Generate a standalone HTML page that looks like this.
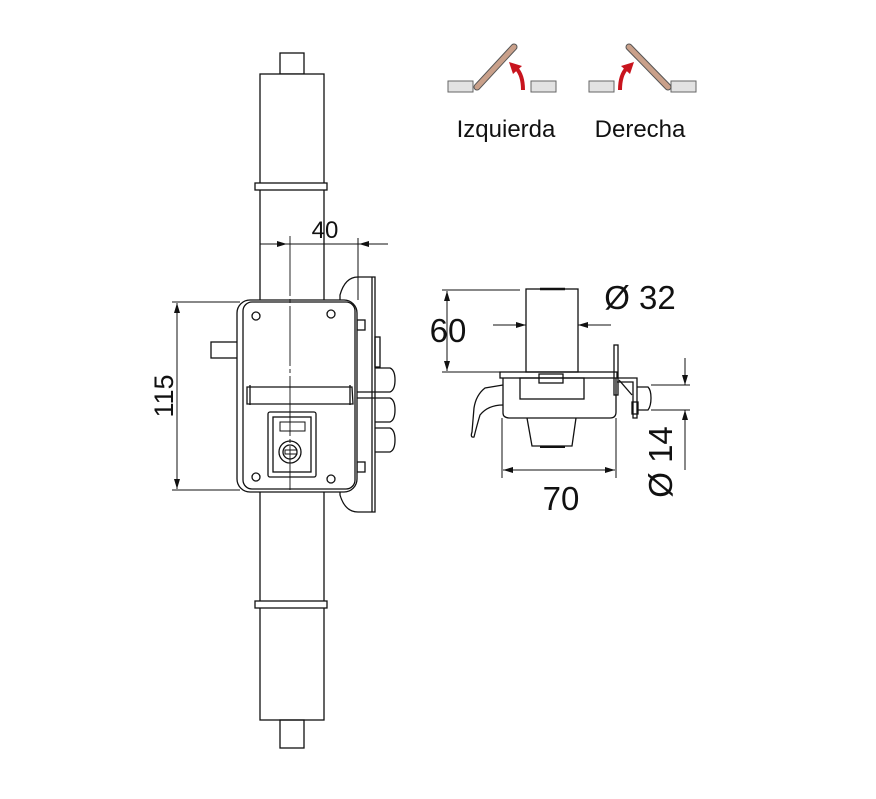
<!DOCTYPE html>
<html><head><meta charset="utf-8"><style>
html,body{margin:0;padding:0;background:#fff;}
svg{display:block;}
text{font-family:"Liberation Sans",sans-serif;fill:#111;}
</style></head><body>
<svg width="876" height="799" viewBox="0 0 876 799" xmlns="http://www.w3.org/2000/svg">
<defs>
<marker id="ar" viewBox="0 0 10 6" refX="10" refY="3" markerWidth="10" markerHeight="6" orient="auto-start-reverse" markerUnits="userSpaceOnUse"><path d="M0,0 L10,3 L0,6 z" fill="#111"/></marker>
</defs>
<g fill="none" stroke="#111" stroke-width="1.3">
<rect x="280" y="53" width="24" height="21"/>
<rect x="260" y="74" width="64" height="228" fill="#fff"/>
<rect x="255" y="183" width="72" height="7" fill="#fff"/>
<rect x="260" y="490" width="64" height="230" fill="#fff"/>
<rect x="255" y="601" width="72" height="7" fill="#fff"/>
<rect x="280" y="720" width="24" height="28"/>
<path d="M340,300 L340,295 Q345,277 358,277 L375,277 L375,512 L358,512 Q345,512 340,495 Z" fill="#fff"/>
<line x1="372" y1="277" x2="372" y2="512"/>
<rect x="357" y="320" width="8" height="10"/>
<rect x="357" y="462" width="8" height="10"/>
<rect x="375" y="337" width="5" height="30"/>
<path d="M375,368 L390,368 Q395,370 395,380 Q395,390 390,392 L375,392"/>
<path d="M375,398 L390,398 Q395,400 395,410 Q395,420 390,422 L375,422"/>
<path d="M375,428 L390,428 Q395,430 395,440 Q395,450 390,452 L375,452"/>
<line x1="357" y1="392" x2="375" y2="392"/><line x1="357" y1="398" x2="375" y2="398"/>
<rect x="211" y="342" width="32" height="16" fill="#fff"/>
<rect x="237" y="300" width="120" height="192" rx="13" fill="#fff"/>
<rect x="243" y="302" width="112" height="187" rx="9"/>
<circle cx="256" cy="316" r="4"/><circle cx="331" cy="314" r="4"/>
<circle cx="256" cy="477" r="4"/><circle cx="331" cy="479" r="4"/>
<path d="M247,387 L352,387 L353,404 L247,404 Z"/>
<line x1="250" y1="385" x2="250" y2="405"/><line x1="350" y1="385" x2="350" y2="405"/>
<rect x="268" y="412" width="48" height="65" rx="2"/>
<rect x="273" y="417" width="38" height="55"/>
<rect x="280" y="422" width="25" height="9" stroke-width="1"/>
<circle cx="290" cy="452" r="11"/><circle cx="290" cy="452" r="7"/>
<rect x="285" y="450" width="12" height="4" stroke-width="1"/>
<line x1="290" y1="236" x2="290" y2="490" stroke-width="0.9" stroke-dasharray="60,3,4,3"/>
<line x1="260" y1="244" x2="287" y2="244" marker-end="url(#ar)" stroke-width="1"/>
<line x1="388" y1="244" x2="359" y2="244" marker-end="url(#ar)" stroke-width="1"/>
<line x1="287" y1="244" x2="359" y2="244" stroke-width="1"/>
<line x1="358" y1="238" x2="358" y2="300" stroke-width="1"/>
<line x1="172" y1="302" x2="240" y2="302" stroke-width="1"/>
<line x1="172" y1="490" x2="240" y2="490" stroke-width="1"/>
<line x1="177" y1="303" x2="177" y2="489" marker-start="url(#ar)" marker-end="url(#ar)" stroke-width="1"/>
<rect x="526" y="289" width="52" height="83" fill="#fff"/>
<line x1="540" y1="289" x2="565" y2="289" stroke-width="2.5"/>
<rect x="500" y="372" width="117" height="6"/>
<path d="M503,378 L503,413 Q503,418 510,418 L610,418 Q616,418 616,412 L616,378"/>
<rect x="520" y="378" width="64" height="21"/>
<rect x="539" y="374" width="24" height="9"/>
<path d="M527,418 L532,446 L572,446 L576,418"/>
<line x1="540" y1="447" x2="565" y2="447" stroke-width="2"/>
<path d="M503,385 L485,388 Q476,395 474,408 L472,432 Q470,438 474,437 Q477,425 480,415 Q488,405 503,405"/>
<rect x="614" y="345" width="4" height="50"/>
<path d="M617,378 L637,378 L637,418 L633,418 L633,382 L617,382"/>
<path d="M619,380 L632,395"/>
<path d="M637,387 L648,387 Q651,390 651,398 Q651,406 648,410 L637,410"/>
<rect x="632" y="402" width="6" height="12"/>
<line x1="442" y1="290" x2="520" y2="290" stroke-width="1"/>
<line x1="442" y1="372" x2="500" y2="372" stroke-width="1"/>
<line x1="447" y1="291" x2="447" y2="371" marker-start="url(#ar)" marker-end="url(#ar)" stroke-width="1"/>
<line x1="493" y1="325" x2="526" y2="325" marker-end="url(#ar)" stroke-width="1"/>
<line x1="611" y1="325" x2="578" y2="325" marker-end="url(#ar)" stroke-width="1"/>
<line x1="502" y1="418" x2="502" y2="478" stroke-width="1"/>
<line x1="616" y1="418" x2="616" y2="478" stroke-width="1"/>
<line x1="503" y1="470" x2="615" y2="470" marker-start="url(#ar)" marker-end="url(#ar)" stroke-width="1"/>
<line x1="651" y1="385" x2="690" y2="385" stroke-width="1"/>
<line x1="651" y1="410" x2="690" y2="410" stroke-width="1"/>
<line x1="685" y1="358" x2="685" y2="385" marker-end="url(#ar)" stroke-width="1"/>
<line x1="685" y1="470" x2="685" y2="410" marker-end="url(#ar)" stroke-width="1"/>
</g>
<text x="325" y="238" font-size="24" text-anchor="middle">40</text>
<text transform="translate(173,396) rotate(-90)" font-size="27" text-anchor="middle">115</text>
<text x="448" y="342" font-size="33" text-anchor="middle">60</text>
<text x="640" y="309" font-size="33" text-anchor="middle">Ø 32</text>
<text x="561" y="510" font-size="33" text-anchor="middle">70</text>
<text transform="translate(672,462) rotate(-90)" font-size="33" text-anchor="middle">Ø 14</text>
<g stroke="#666" stroke-width="1" fill="#e2e2e2">
<rect x="448" y="81" width="25" height="11"/>
<rect x="531" y="81" width="25" height="11"/>
<rect x="589" y="81" width="25" height="11"/>
<rect x="671" y="81" width="25" height="11"/>
</g>
<line x1="477" y1="87" x2="514" y2="47" stroke="#555" stroke-width="7" stroke-linecap="round"/>
<line x1="477" y1="87" x2="514" y2="47" stroke="#c9a08a" stroke-width="5" stroke-linecap="round"/>
<line x1="629" y1="47" x2="668" y2="87" stroke="#555" stroke-width="7" stroke-linecap="round"/>
<line x1="629" y1="47" x2="668" y2="87" stroke="#c9a08a" stroke-width="5" stroke-linecap="round"/>
<path d="M523,90 Q523,75 516,68" fill="none" stroke="#c8141e" stroke-width="4"/>
<path d="M509,62 L522,66 L513,74 Z" fill="#c8141e"/>
<path d="M620,90 Q620,75 627,68" fill="none" stroke="#c8141e" stroke-width="4"/>
<path d="M634,62 L621,66 L630,74 Z" fill="#c8141e"/>
<text x="506" y="137" font-size="24" text-anchor="middle">Izquierda</text>
<text x="640" y="137" font-size="24" text-anchor="middle">Derecha</text>
</svg>
</body></html>
